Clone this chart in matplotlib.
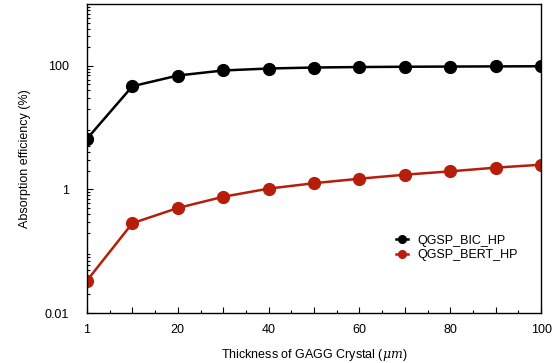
import numpy as np
import matplotlib
matplotlib.use('Agg')
import matplotlib.pyplot as plt
from matplotlib.ticker import MultipleLocator, LogLocator, NullFormatter

plt.rcParams['font.family'] = ['Liberation Sans', 'DejaVu Sans']
plt.rcParams['mathtext.fontset'] = 'dejavuserif'

thickness = [1, 10, 20, 30, 40, 50, 60, 70, 80, 90, 100]
bic_hp = [6.6, 46.7, 69.6, 84, 90.4, 93.8, 95.5, 96.5, 97.2, 97.8, 98.3]
bert_hp = [0.0335, 0.284, 0.50, 0.76, 1.03, 1.26, 1.49, 1.73, 1.96, 2.25, 2.51]
tick_labels = ['1', '20', '40', '60', '80', '100']

# first point sits at position 0, the rest at their thickness
pos = np.arange(len(thickness)) * 10

fig = plt.figure(figsize=(5.59, 3.63), dpi=100)
ax = fig.add_axes([0.1556, 0.1377, 0.8124, 0.8513])

ax.plot(pos, bic_hp, color='black', lw=1.8, marker='o', ms=8.5, label='QGSP_BIC_HP')
ax.plot(pos, bert_hp, color='#b61e0b', lw=1.8, marker='o', ms=8.5, label='QGSP_BERT_HP')

ax.set_yscale('log')
ax.set_ylim(0.01, 1000)
ax.set_xlim(0, 100)
ax.set_yticks([0.01, 1, 100])
ax.set_yticklabels(['0.01', '1', '100'])
ax.yaxis.set_minor_locator(LogLocator(base=10, subs=np.arange(2, 10), numticks=20))
ax.yaxis.set_minor_formatter(NullFormatter())

ax.xaxis.set_minor_locator(MultipleLocator(5))
ax.set_xticks(pos)
ax.set_xticklabels([tick_labels[i // 2] if i % 2 == 0 else '' for i in range(len(pos))])

ax.tick_params(which='both', direction='in', top=False, right=False, labelsize=9, width=0.8)
ax.tick_params(which='major', length=4)
ax.tick_params(which='minor', length=2)
ax.tick_params(axis='x', pad=8)
ax.tick_params(axis='y', pad=13)
for s in ax.spines.values():
    s.set_linewidth(1.0)

ax.set_xlabel(r'Thickness of GAGG Crystal ($\mu m$)', fontsize=9, labelpad=8)
ax.set_ylabel('Absorption efficiency (%)', fontsize=9, labelpad=10)

ax.legend(loc='upper left', bbox_to_anchor=(0.655, 0.29), frameon=False, fontsize=9,
          markerscale=0.65, handlelength=1.0, handletextpad=0.7, labelspacing=0.2)

fig.savefig('out.png', dpi=100)
